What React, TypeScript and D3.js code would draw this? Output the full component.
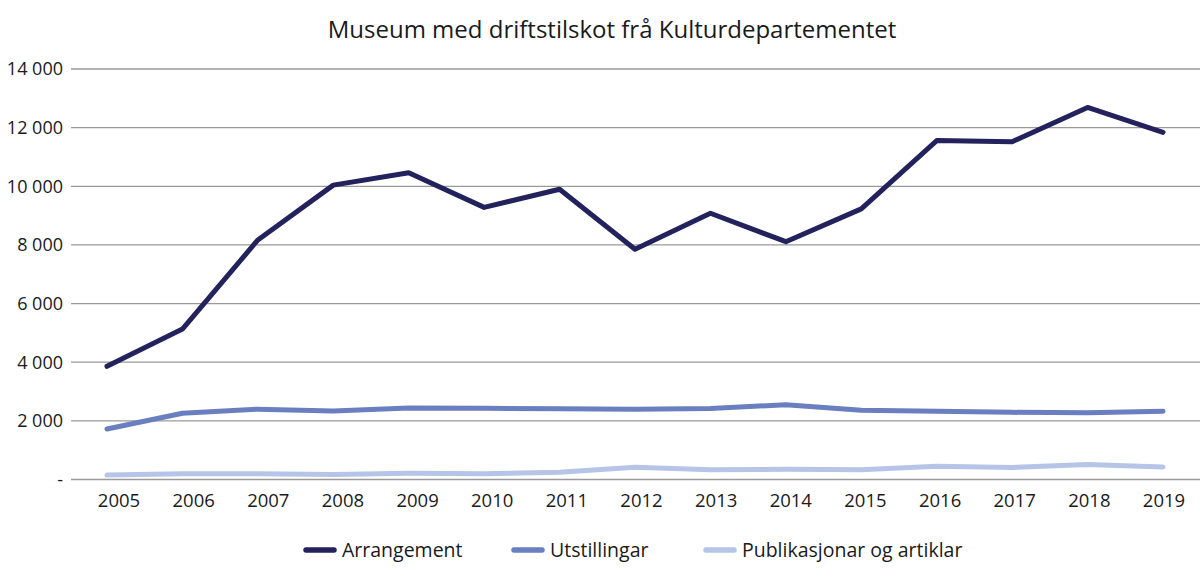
import React from "react";
import * as d3 from "d3";

const years = [2005, 2006, 2007, 2008, 2009, 2010, 2011, 2012, 2013, 2014, 2015, 2016, 2017, 2018, 2019];
const arrangement = [3860, 5130, 8170, 10040, 10460, 9280, 9900, 7850, 9080, 8110, 9230, 11560, 11520, 12690, 11840];
const utstillingar = [1720, 2260, 2400, 2340, 2440, 2430, 2410, 2400, 2420, 2550, 2360, 2330, 2290, 2280, 2330];
const publikasjonar = [150, 200, 200, 170, 210, 200, 250, 420, 330, 350, 330, 450, 410, 510, 430];
const yTicks = [0, 2000, 4000, 6000, 8000, 10000, 12000, 14000];
const seriesNames = ["Arrangement", "Utstillingar", "Publikasjonar og artiklar"];
const colors = ["#23225c", "#6a7fc0", "#b6c4e7"];

const W = 1200;
const H = 578;
const FONT = "'Open Sans', 'Noto Sans', sans-serif";

export default function App() {
  const x = d3.scalePoint<number>().domain(years).range([107, 1163]);
  const xLabel = d3.scalePoint<number>().domain(years).range([119, 1164]);
  const y = d3.scaleLinear().domain([0, 14000]).range([479.5, 69]);
  const fmt = (v: number) => (v === 0 ? "-" : d3.format(",")(v).replace(/,/g, " "));
  const line = d3
    .line<number>()
    .x((_, i) => x(years[i]) as number)
    .y((d) => y(d));
  const data = [arrangement, utstillingar, publikasjonar];
  const legendX = [304, 512, 704];

  return (
    <svg
      width={W}
      height={H}
      style={{ position: "absolute", left: 0, top: 0, background: "#fff" }}
      fontFamily={FONT}
    >
      <text x={612} y={38} textAnchor="middle" fontSize={24} fill="#1a1a1a">
        Museum med driftstilskot frå Kulturdepartementet
      </text>
      {yTicks.map((t) => (
        <g key={t}>
          <line x1={71} x2={1200} y1={y(t)} y2={y(t)} stroke="#9a9a9a" strokeWidth={1.3} />
          <text x={63} y={y(t)} dy="0.35em" textAnchor="end" fontSize={18} fill="#1a1a1a">
            {fmt(t)}
          </text>
        </g>
      ))}
      {years.map((yr) => (
        <text key={yr} x={xLabel(yr)} y={507} textAnchor="middle" fontSize={18.5} fill="#1a1a1a">
          {yr}
        </text>
      ))}
      {data
        .slice()
        .reverse()
        .map((s, ri) => {
          const i = data.length - 1 - ri;
          return (
            <path
              key={i}
              d={line(s) || ""}
              fill="none"
              stroke={colors[i]}
              strokeWidth={5}
              strokeLinejoin="round"
              strokeLinecap="round"
            />
          );
        })}
      {seriesNames.map((n, i) => (
        <g key={n}>
          <line
            x1={legendX[i] + 2}
            x2={legendX[i] + 30}
            y1={550}
            y2={550}
            stroke={colors[i]}
            strokeWidth={5.5}
            strokeLinecap="round"
          />
          <text x={legendX[i] + 38} y={557} fontSize={19.5} fill="#1a1a1a">
            {n}
          </text>
        </g>
      ))}
    </svg>
  );
}
